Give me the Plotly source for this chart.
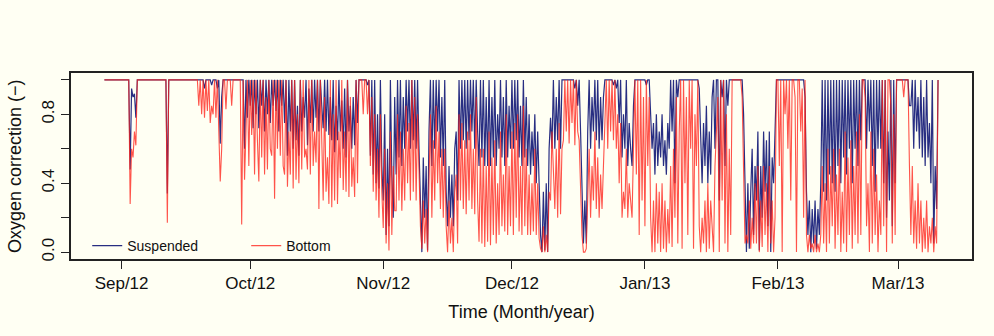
import pandas as pd
import plotly.graph_objects as go

# Time axis: 8-hourly values starting 28 Aug 2012
start_time = "2012-08-28 00:00"
step = "8h"

# Oxygen correction (-), suspended culture (3 values per day, rows of 4 days)
suspended = [
    1, 1, 1, 1, 1, 1, 1, 1, 1, 1, 1, 1,                                  # d0-3
    1, 1, 1, 1, 1, 1, 0.48, 0.95, 0.9, 0.92, 0.78, 1,                    # d4-7
    1, 1, 1, 1, 1, 1, 1, 1, 1, 1, 1, 1,                                  # d8-11
    1, 1, 1, 1, 1, 1, 1, 1, 0.34, 1, 1, 1,                               # d12-15
    1, 1, 1, 1, 1, 1, 1, 1, 1, 1, 1, 1,                                  # d16-19
    1, 1, 1, 1, 1, 1, 1, 1, 1, 1, 0.95, 1,                               # d20-23
    1, 1, 1, 0.97, 1, 1, 1, 0.95, 1, 0.63, 0.9, 1,                       # d24-27
    1, 1, 1, 1, 1, 1, 1, 1, 1, 1, 1, 1,                                  # d28-31
    1, 1, 0.6, 1, 0.78, 1, 0.85, 1, 0.72, 1, 0.8, 1,                     # d32-35
    0.72, 1, 0.85, 1, 0.7, 1, 0.8, 1, 0.75, 1, 0.85, 1,                  # d36-39
    0.82, 1, 0.7, 1, 0.85, 1, 0.75, 1, 0.56, 1, 0.7, 1,                  # d40-43
    0.6, 1, 0.65, 0.85, 0.56, 1, 0.7, 0.9, 0.78, 1, 0.62, 0.95,          # d44-47
    0.75, 1, 0.7, 1, 0.78, 1, 0.7, 1, 0.85, 0.72, 1, 0.7,                # d48-51
    1, 0.68, 0.9, 0.65, 1, 0.58, 0.85, 0.65, 1, 0.7, 0.88, 0.6,          # d52-55
    0.95, 0.55, 1, 0.7, 0.85, 0.6, 0.9, 0.62, 1, 0.75, 1, 1,             # d56-59
    1, 1, 1, 1, 0.97, 1, 0.56, 1, 0.45, 1, 0.4, 0.8,                     # d60-63
    0.37, 1, 0.5, 0.3, 0.8, 0.1, 0.6, 0.15, 1, 0.45, 0.2, 0.9,           # d64-67
    0.45, 1, 0.55, 1, 0.5, 0.9, 0.6, 1, 0.7, 1, 0.6, 1,                  # d68-71
    0.65, 1, 0.6, 1, 0.6, 0.3, 0, 0.55, 0.2, 0.5, 0.01, 0.7,             # d72-75
    1, 0.5, 1, 0.6, 1, 0.7, 1, 0.55, 0.9, 0.5, 1, 0.35,                  # d76-79
    0.15, 0.5, 0.2, 0.45, 0.15, 0.6, 0.7, 0.3, 1, 0.6, 1, 0.65,          # d80-83
    1, 0.6, 1, 0.65, 1, 0.7, 1, 0.6, 1, 0.7, 0.5, 1,                     # d84-87
    0.55, 1, 0.5, 0.9, 0.5, 1, 0.5, 0.9, 0.55, 1, 0.5, 0.8,              # d88-91
    0.6, 1, 0.55, 0.9, 0.5, 1, 0.55, 0.85, 0.6, 1, 0.6, 1,               # d92-95
    0.65, 1, 0.55, 0.85, 0.5, 1, 0.55, 0.9, 0.5, 0.8, 0.45, 0.7,         # d96-99
    0.5, 0.8, 0.4, 0.7, 0.3, 0.1, 0, 0.35, 0.01, 0.4, 0, 0.6,            # d100-103
    0.78, 0.6, 1, 0.6, 0.9, 0.65, 1, 0.6, 1, 1, 1, 1,                    # d104-107
    1, 1, 1, 1, 1, 0.95, 1, 0.85, 1, 0.7, 0.4, 0.05,                     # d108-111
    0.3, 0.05, 0.7, 1, 0.6, 0.9, 0.7, 1, 0.65, 1, 0.6, 0.9,              # d112-115
    0.65, 0.9, 1, 1, 1, 1, 1, 1, 0.97, 1, 0.95, 1,                       # d116-119
    0.75, 1, 0.55, 0.8, 0.6, 1, 0.5, 0.75, 0.6, 0.5, 0.85, 1,            # d120-123
    1, 1, 1, 1, 1, 1, 1, 0.97, 1, 1, 0.8, 0.6,                           # d124-127
    0.75, 0.45, 0.8, 0.5, 0.7, 0.55, 0.8, 0.5, 0.65, 0.45, 0.75, 0.6,    # d128-131
    1, 0.7, 1, 0.4, 1, 0.9, 1, 1, 1, 1, 1, 1,                            # d132-135
    1, 1, 1, 1, 1, 1, 1, 1, 0.95, 0.6, 0.4, 0.75,                        # d136-139
    0.5, 0.85, 0.4, 0.7, 0.45, 0.9, 1, 0.6, 1, 1, 0.3, 1,                # d140-143
    0.9, 1, 0.5, 1, 0.85, 1, 1, 1, 1, 1, 1, 1,                           # d144-147
    1, 1, 1, 0.8, 0.3, 0, 0.4, 0.02, 0.35, 0.6, 0.1, 0.5,                # d148-151
    0.3, 0.7, 0.01, 0.5, 0.2, 0.7, 0.35, 0.65, 0.15, 0.7, 0, 0.55,       # d152-155
    0.4, 0.75, 1, 1, 1, 1, 1, 1, 1, 1, 1, 1,                             # d156-159
    1, 1, 1, 1, 1, 1, 1, 1, 1, 1, 0.9, 0.35,                             # d160-163
    0.1, 0.3, 0, 0.25, 0.05, 0.3, 0.02, 0.25, 0.1, 0.4, 1, 0.35,         # d164-167
    1, 0.3, 1, 0.45, 1, 0.4, 1, 0.35, 1, 0.5, 1, 0.4,                    # d168-171
    1, 0.55, 1, 0.45, 1, 0.6, 1, 0.4, 1, 0.6, 1, 0.5,                    # d172-175
    1, 0.65, 1, 1, 1, 0.6, 1, 0.7, 1, 0.5, 1, 0.35,                      # d176-179
    1, 0.6, 1, 0.6, 1, 0.4, 1, 0.2, 0.7, 0.3, 1, 0.15,                   # d180-183
    1, 0.4, 1, 1, 1, 1, 1, 1, 1, 1, 1, 0.85,                             # d184-187
    0.85, 1, 0.6, 1, 0.7, 0.9, 0.6, 1, 0.55, 0.9, 0.5, 1,                # d188-191
    0.55, 0.75, 0.4, 1, 0.05, 0.5, 0.25, 1,                              # d192-194
]

# Oxygen correction (-), bottom culture
bottom = [
    1, 1, 1, 1, 1, 1, 1, 1, 1, 1, 1, 1,                                  # d0-3
    1, 1, 1, 1, 1, 1, 0.28, 0.6, 0.55, 0.7, 0.62, 1,                     # d4-7
    1, 1, 1, 1, 1, 1, 1, 1, 1, 1, 1, 1,                                  # d8-11
    1, 1, 1, 1, 1, 1, 1, 1, 0.17, 1, 1, 1,                               # d12-15
    1, 1, 1, 1, 1, 1, 1, 1, 1, 1, 1, 1,                                  # d16-19
    1, 1, 1, 1, 1, 1, 0.85, 1, 0.8, 1, 0.78, 1,                          # d20-23
    0.82, 1, 0.75, 0.85, 0.8, 1, 0.78, 1, 0.7, 0.41, 0.6, 1,             # d24-27
    1, 0.83, 1, 1, 1, 0.85, 1, 1, 1, 1, 1, 1,                            # d28-31
    0.16, 1, 0.42, 0.7, 1, 0.5, 1, 0.68, 1, 0.45, 1, 0.65,               # d32-35
    0.41, 1, 0.55, 1, 0.45, 0.9, 0.48, 1, 0.6, 0.56, 1, 0.31,            # d36-39
    1, 0.6, 1, 0.56, 1, 0.5, 0.45, 1, 0.38, 0.7, 0.45, 1,                # d40-43
    0.37, 1, 0.42, 0.8, 0.4, 1, 0.48, 1, 0.55, 0.6, 0.48, 1,             # d44-47
    0.45, 1, 0.5, 0.7, 0.52, 1, 0.25, 1, 0.6, 0.3, 0.9, 0.35,            # d48-51
    0.55, 0.28, 1, 0.26, 0.8, 0.3, 1, 0.28, 0.7, 0.43, 1, 0.36,          # d52-55
    0.7, 0.35, 1, 0.32, 0.9, 0.38, 0.55, 0.32, 1, 0.4, 1, 1,             # d56-59
    1, 0.8, 1, 1, 0.8, 1, 0.5, 0.9, 0.35, 0.8, 0.3, 0.6,                 # d60-63
    0.2, 0.8, 0.35, 0.14, 0.6, 0.05, 0.4, 0.01, 0.7, 0.1, 0.5, 0.24,     # d64-67
    0.24, 0.8, 0.3, 0.7, 0.24, 0.6, 0.3, 0.85, 0.4, 0.75, 0.3, 1,        # d68-71
    0.35, 0.9, 0.3, 0.8, 0.4, 0.15, 0.02, 0.3, 0.05, 0.25, 0, 0.45,      # d72-75
    0.8, 0.2, 0.65, 0.3, 0.85, 0.4, 0.7, 0.25, 0.6, 0.2, 0.6, 0.15,      # d76-79
    0, 0.3, 0.05, 0.2, 0, 0.35, 0.45, 0.05, 0.8, 0.3, 0.75, 0.25,        # d80-83
    0.65, 0.22, 0.7, 0.3, 0.8, 0.25, 0.6, 0.22, 0.9, 0.3, 0.06, 0.6,     # d84-87
    0.05, 0.6, 0.03, 0.5, 0.06, 0.7, 0.04, 0.55, 0.1, 0.65, 0.05, 0.4,   # d88-91
    0.1, 0.7, 0.15, 0.45, 0.12, 0.8, 0.1, 0.5, 0.15, 0.7, 0.1, 0.75,     # d92-95
    0.2, 0.8, 0.12, 0.5, 0.1, 0.85, 0.15, 0.6, 0.1, 0.45, 0.1, 0.4,      # d96-99
    0.12, 0.6, 0.1, 0.4, 0.08, 0.02, 0, 0.15, 0, 0.1, 0, 0.35,           # d100-103
    0.3, 0.7, 0.4, 0.25, 0.6, 0.2, 0.75, 0.22, 0.6, 0.65, 1, 0.7,        # d104-107
    1, 0.63, 1, 0.75, 1, 0.62, 1, 0.7, 0.65, 0.4, 0.1, 0,                # d108-111
    0, 0.02, 0.4, 0.6, 0.2, 0.5, 0.3, 0.7, 0.25, 0.55, 0.2, 0.45,        # d112-115
    0.25, 0.5, 0.85, 1, 0.6, 1, 0.7, 1, 0.65, 1, 0.6, 0.8,               # d116-119
    0.4, 0.75, 0.2, 0.35, 0.25, 0.6, 0.2, 0.4, 0.3, 0.2, 0.6, 1,         # d120-123
    0.45, 1, 0.1, 1, 0.3, 0.9, 0.15, 1, 0.5, 0.9, 0.2, 0,                # d124-127
    0.3, 0, 0.4, 0.05, 0.35, 0, 0.4, 0.02, 0.3, 0, 0.25, 0.05,           # d128-131
    0.5, 0.03, 0.6, 0.2, 0.9, 0.05, 0.7, 1, 0.02, 1, 0.4, 0.9,           # d132-135
    0.1, 1, 0.6, 1, 0.02, 0.8, 0.5, 1, 0.15, 0, 0.2, 0.05,               # d136-139
    0.3, 0, 0.4, 0.02, 0.3, 0.1, 0, 0.5, 0.7, 0.9, 0, 1,                 # d140-143
    0.3, 1, 0.05, 0.8, 0, 0.6, 0.1, 1, 1, 1, 1, 1,                       # d144-147
    1, 1, 0.9, 0.5, 0.05, 0.1, 0.05, 0.3, 0.02, 0.2, 0.05, 0.4,          # d148-151
    0.05, 0.5, 0, 0.3, 0.03, 0.5, 0.1, 0.4, 0, 0.5, 0.05, 0.3,           # d152-155
    0, 0.2, 1, 1, 0.5, 1, 0, 1, 0.8, 1, 0.6, 1,                          # d156-159
    0.3, 1, 1, 0.9, 0, 1, 1, 0.7, 0.95, 0.2, 1, 0.1,                     # d160-163
    0, 0.1, 0.02, 0.05, 0, 0.1, 0, 0.05, 0, 0.1, 0.5, 0.05,              # d164-167
    0.4, 0, 0.6, 0.05, 0.5, 0.15, 0.6, 0.02, 0.45, 0.1, 0.6, 0,          # d168-171
    0.35, 0.05, 0.7, 0, 0.55, 0.1, 0.65, 0.02, 0.5, 0.1, 0.7, 0.05,      # d172-175
    0.8, 0.1, 1, 1, 0.9, 0.15, 0.4, 0, 0.7, 0.05, 0.6, 0.1,              # d176-179
    0.45, 0, 0.3, 0.1, 1, 0.15, 1, 0, 1, 1, 0.85, 0.05,                  # d180-183
    0.8, 0.1, 1, 1, 1, 1, 1, 0.9, 1, 1, 1, 0.5,                          # d184-187
    0.1, 0.5, 0.05, 0.3, 0.02, 0.4, 0.05, 0.3, 0, 0.2, 0.02, 0.3,        # d188-191
    0, 0.15, 0.05, 0.2, 0, 0.15, 0.05, 1,                                # d192-194
]

month_ticks = ["2012-09-01", "2012-10-01", "2012-11-01", "2012-12-01",
               "2013-01-01", "2013-02-01", "2013-03-01"]
month_labels = ["Sep/12", "Oct/12", "Nov/12", "Dec/12", "Jan/13", "Feb/13", "Mar/13"]
y_ticks = [0, 0.2, 0.4, 0.6, 0.8, 1.0]
y_labels = ["0.0", "", "0.4", "", "0.8", ""]

assert len(suspended) == len(bottom)
times = pd.date_range(start=start_time, periods=len(suspended), freq=step)

bg = "#FFFFF3"
fig = go.Figure()
fig.add_trace(go.Scatter(x=times, y=suspended, mode="lines", name="Suspended",
                         line=dict(color="rgba(22,28,120,0.92)", width=1.2)))
fig.add_trace(go.Scatter(x=times, y=bottom, mode="lines", name="Bottom",
                         line=dict(color="rgba(255,35,25,0.78)", width=1.1)))

font_family = "Liberation Sans, Arial, sans-serif"
fig.update_layout(
    width=994, height=336,
    margin=dict(l=71, r=22, t=73, b=77),
    paper_bgcolor=bg, plot_bgcolor=bg,
    font=dict(family=font_family, size=17, color="#111"),
    showlegend=True,
    legend=dict(orientation="h", x=0.018, y=0.07, xanchor="left", yanchor="middle",
                bgcolor="rgba(0,0,0,0)", font=dict(size=14),
                entrywidth=114, entrywidthmode="pixels", itemwidth=30),
    xaxis=dict(
        type="date", automargin=False,
        range=["2012-08-20 05:00", "2013-03-18 06:00"],
        tickmode="array", tickvals=month_ticks, ticktext=month_labels,
        ticks="outside", ticklen=8, tickwidth=1, tickcolor="#222",
        showline=True, linecolor="#222", linewidth=1.5, mirror=True,
        showgrid=False, zeroline=False,
        title=dict(text="Time (Month/year)", standoff=13, font=dict(size=18)),
        tickfont=dict(size=17),
    ),
    yaxis=dict(
        automargin=False,
        range=[-0.04, 1.04],
        tickmode="array", tickvals=y_ticks, ticktext=y_labels,
        tickangle=-90,
        ticks="outside", ticklen=8, tickwidth=1, tickcolor="#222",
        showline=True, linecolor="#222", linewidth=1.5, mirror=True,
        showgrid=False, zeroline=False,
        tickfont=dict(size=17),
    ),
    annotations=[dict(
        text="Oxygen correction (\u2212)", textangle=-90,
        xref="paper", yref="paper", x=-0.0622, y=0.5,
        xanchor="center", yanchor="middle", showarrow=False,
        font=dict(size=18, color="#111"),
    )],
)

fig.write_html("out.html",
               config={"displayModeBar": False},
               post_script="document.body.style.margin='0';"
                           "document.body.style.background='%s';" % bg)
